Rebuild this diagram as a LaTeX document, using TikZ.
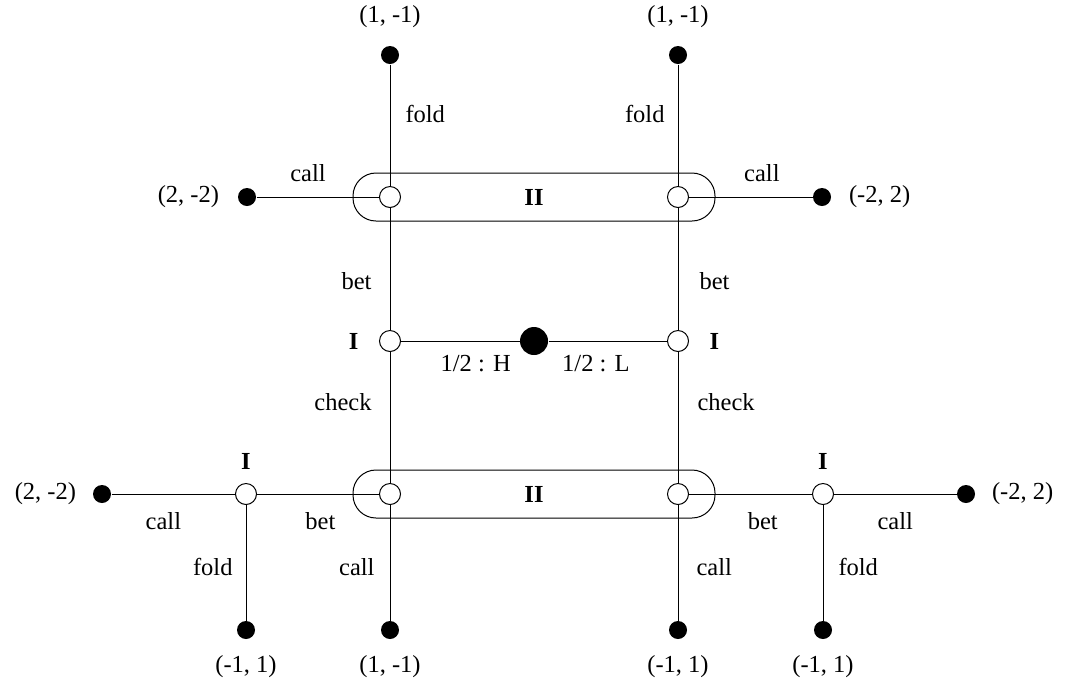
\documentclass[tikz,border=0pt]{standalone}
\usepackage{fontspec}
\setmainfont{Liberation Serif}
\usetikzlibrary{positioning,fit}

\begin{document}
\begin{tikzpicture}[
      x=0.5pt, y=-0.5pt,
      font=\fontsize{12.25}{14}\selectfont,
      line width=0.5pt,
      dec/.style={circle, draw, fill=white, minimum size=10.5pt, inner sep=0pt},
      leaf/.style={circle, fill=black, minimum size=9pt, inner sep=0pt},
      chance/.style={circle, fill=black, minimum size=14pt, inner sep=0pt},
      lab/.style={inner sep=0pt},
      infoset/.style={draw, rounded corners=11.5pt, inner xsep=13pt, inner ysep=6.5pt},
      who/.style={inner sep=0pt, font=\fontsize{12.25}{14}\selectfont\bfseries},
    ]
      \useasboundingbox (0,0) rectangle (1065,682);
      % chance move and first player
      \node[chance] (c) at (534,341) {};
      \node[dec] (a1) at (390,341) {};
      \node[dec] (a2) at (678,341) {};
      \node[who, left=10pt of a1] (a1p) {I};
      \node[who, right=10pt of a2] (a2p) {I};
      % player II after bet
      \node[dec] (u1) at (390,197) {};
      \node[dec] (u2) at (678,197) {};
      \node[infoset, fit=(u1)(u2)] (top) {};
      \node[who] (topp) at (top.center) {II};
      \node[leaf] (tl) at (390,55) {};
      \node[leaf] (tr) at (678,55) {};
      \node[leaf] (sl) at (247,197) {};
      \node[leaf] (sr) at (822,197) {};
      \node[lab, above=8.7pt of tl] (tlv) {(1, -1)};
      \node[lab, above=8.7pt of tr] (trv) {(1, -1)};
      \node[lab, left=9pt of sl] (slv) {(2, -2)};
      \node[lab, right=8.5pt of sr] (srv) {(-2, 2)};
      % player II after check
      \node[dec] (d1) at (390,494) {};
      \node[dec] (d2) at (678,494) {};
      \node[infoset, fit=(d1)(d2)] (bot) {};
      \node[who] (botp) at (bot.center) {II};
      \node[dec] (b1) at (246,494) {};
      \node[dec] (b2) at (823,494) {};
      \node[who, above=6.5pt of b1] (b1p) {I};
      \node[who, above=6.5pt of b2] (b2p) {I};
      \node[leaf] (el) at (102,494) {};
      \node[leaf] (er) at (966,494) {};
      \node[leaf] (bl1) at (246,630) {};
      \node[leaf] (bl2) at (390,630) {};
      \node[leaf] (br1) at (678,630) {};
      \node[leaf] (br2) at (823,630) {};
      \node[lab, left=8pt of el] (elv) {(2, -2)};
      \node[lab, right=8pt of er] (erv) {(-2, 2)};
      \node[lab, below=7.7pt of bl1] (bl1v) {(-1, 1)};
      \node[lab, below=7.7pt of bl2] (bl2v) {(1, -1)};
      \node[lab, below=7.7pt of br1] (br1v) {(-1, 1)};
      \node[lab, below=7.7pt of br2] (br2v) {(-1, 1)};
      % moves
      \draw (c) -- node[lab, below=7pt, pos=.37] (h) {1/2 : H} (a1);
      \draw (c) -- node[lab, below=7pt, pos=.4] (l) {1/2 : L} (a2);
      \draw (a1) -- node[lab, left=9pt, pos=.4] (bt1) {bet} (u1);
      \draw (a2) -- node[lab, right=10.5pt, pos=.4] (bt2) {bet} (u2);
      \draw (tl) -- node[lab, right=7.5pt, pos=.41] (f1) {fold} (u1);
      \draw (tr) -- node[lab, left=6.5pt, pos=.41] (f2) {fold} (u2);
      \draw (sl) -- node[lab, above=7.5pt, pos=.42] (c1) {call} (u1);
      \draw (u2) -- node[lab, above=7.5pt, pos=.59] (c2) {call} (sr);
      \draw (a1) -- node[lab, left=9pt, pos=.38] (k1) {check} (d1);
      \draw (a2) -- node[lab, right=9.5pt, pos=.38] (k2) {check} (d2);
      \draw (el) -- node[lab, below=9pt, pos=.42] (c3) {call} (b1);
      \draw (b1) -- node[lab, below=9pt, pos=.52] (bt3) {bet} (d1);
      \draw (d2) -- node[lab, below=9pt, pos=.6] (bt4) {bet} (b2);
      \draw (b2) -- node[lab, below=9pt, pos=.5] (c4) {call} (er);
      \draw (b1) -- node[lab, left=6.5pt, pos=.54] (f3) {fold} (bl1);
      \draw (d1) -- node[lab, left=7.5pt, pos=.54] (c5) {call} (bl2);
      \draw (d2) -- node[lab, right=9pt, pos=.54] (c6) {call} (br1);
      \draw (b2) -- node[lab, right=7.5pt, pos=.54] (f4) {fold} (br2);
    \end{tikzpicture}
\end{document}
